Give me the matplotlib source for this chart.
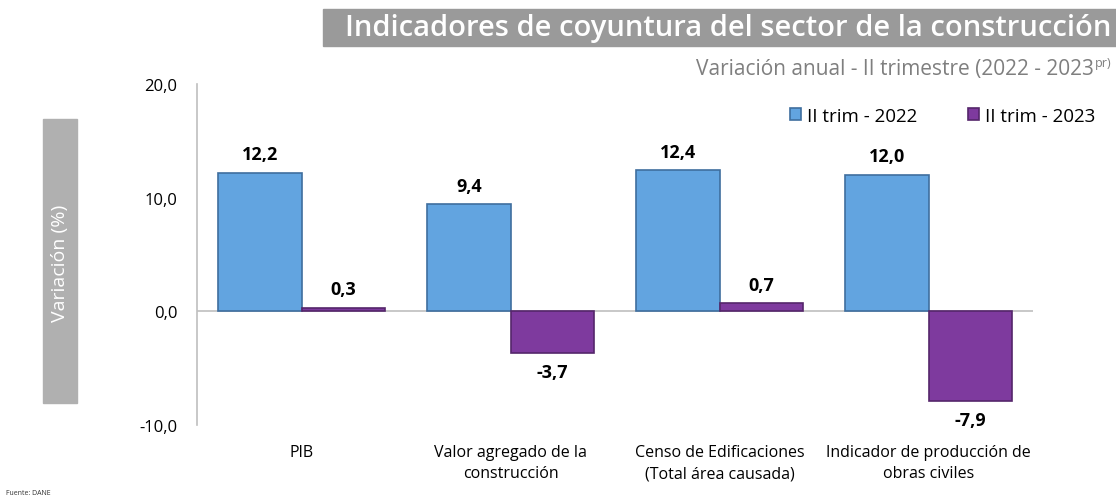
import matplotlib
matplotlib.use("Agg")
import matplotlib.pyplot as plt
import matplotlib.patches as mpatches
import numpy as np

categories = ["PIB", "Valor agregado de la\nconstrucción", "Censo de Edificaciones\n(Total área causada)",
              "Indicador de producción de\nobras civiles"]
series_names = ["II trim - 2022", "II trim - 2023"]
values_2022 = [12.2, 9.4, 12.4, 12.0]
values_2023 = [0.3, -3.7, 0.7, -7.9]
yticks = [-10, 0, 10, 20]

plt.rcParams['font.family'] = ['Open Sans', 'DejaVu Sans']

fig = plt.figure(figsize=(11.16, 5.02), dpi=100)
ax = fig.add_axes([197/1116, 1-426/502, (1033-197)/1116, (426-85)/502])

x = np.arange(len(categories))
w = 0.4
c1, e1 = "#62A4E0", "#3F6E9E"
c2, e2 = "#7E3A9E", "#55266B"
b1 = ax.bar(x - w/2, values_2022, w, color=c1, edgecolor=e1, linewidth=1.2, label=series_names[0])
b2 = ax.bar(x + w/2, values_2023, w, color=c2, edgecolor=e2, linewidth=1.2, label=series_names[1])

def fmt(v):
    return f"{v:.1f}".replace(".", ",")

for bars, vals in ((b1, values_2022), (b2, values_2023)):
    for rect, v in zip(bars, vals):
        cx = rect.get_x() + rect.get_width()/2
        if v >= 0:
            ax.annotate(fmt(v), (cx, v), xytext=(0, 7), textcoords="offset points",
                        ha="center", va="bottom", fontsize=13, fontweight="bold")
        else:
            ax.annotate(fmt(v), (cx, v), xytext=(0, -7), textcoords="offset points",
                        ha="center", va="top", fontsize=13, fontweight="bold")

ax.set_xlim(-0.5, len(categories) - 0.5)
ax.set_ylim(-10, 20)
ax.set_yticks(yticks)
ax.set_yticklabels([fmt(t) for t in yticks], fontsize=12)
ax.axhline(0, color="#BFBFBF", linewidth=1.2, zorder=0)
for s in ("top", "right", "bottom"):
    ax.spines[s].set_visible(False)
ax.spines["left"].set_color("#BFBFBF")
ax.spines["left"].set_linewidth(1.2)
ax.tick_params(axis="y", length=0, pad=14)
ax.tick_params(axis="x", length=0, pad=14)
ax.set_xticks(x)
ax.set_xticklabels(categories, fontsize=11.5, linespacing=1.4)

leg = ax.legend(loc="center right", bbox_to_anchor=((1095-197)/(1033-197), (426-117)/(426-85)),
                ncol=2, frameon=False, fontsize=13.5, borderaxespad=0, borderpad=0,
                handlelength=0.6, handleheight=0.6, handletextpad=0.3, columnspacing=2.7)

# Title banner
fig.patches.append(mpatches.Rectangle((323/1116, 1-47/502), 1-323/1116, 37/502,
                                      transform=fig.transFigure, color="#9A9A9A", zorder=0))
fig.text(1111/1116, 1-29/502, "Indicadores de coyuntura del sector de la construcción",
         ha="right", va="center", color="white", fontsize=21, fontweight="semibold")
fig.text(1094/1116, 1-69/502, "Variación anual - II trimestre (2022 - 2023",
         ha="right", va="center", color="#7F7F7F", fontsize=15)
fig.text(1095/1116, 1-63/502, "pr)", ha="left", va="center", color="#7F7F7F", fontsize=9)

# Y label box
fig.patches.append(mpatches.Rectangle((43/1116, 1-404/502), 34/1116, 284/502,
                                      transform=fig.transFigure, color="#B0B0B0", zorder=0))
fig.text(60/1116, 1-263/502, "Variación (%)", rotation=90, ha="center", va="center",
         color="white", fontsize=14)

fig.text(6/1116, 1-494/502, "Fuente: DANE", fontsize=5, ha="left", va="center", color="#333333")

fig.savefig("out.png", dpi=100)
